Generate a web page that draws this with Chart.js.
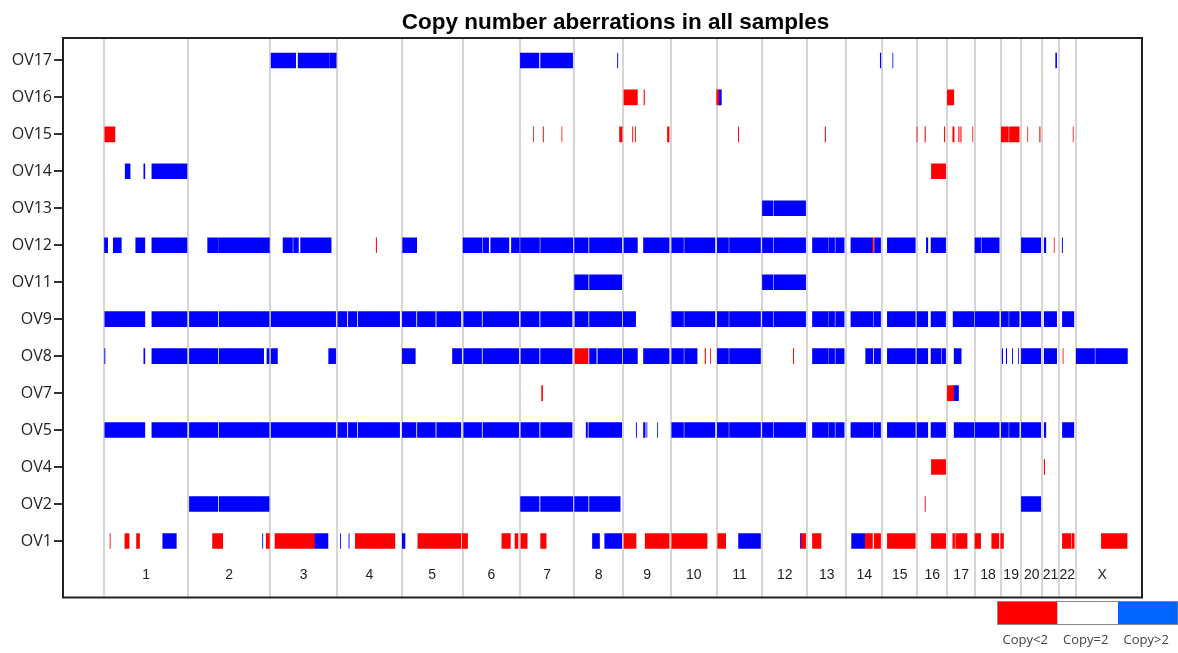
<!DOCTYPE html>
<html>
<head>
<meta charset="utf-8">
<script src="https://cdn.jsdelivr.net/npm/chart.js@4.4.1/dist/chart.umd.min.js"></script>
<style>
  html, body { margin: 0; padding: 0; background: #ffffff; }
  canvas { display: block; }
</style>
</head>
<body>
<canvas id="cnv" width="1178" height="653"></canvas>
<script>
// Chromosomes (hg19 lengths, Mb) laid end to end along the x axis
const chromNames = ['1','2','3','4','5','6','7','8','9','10','11','12','13','14','15','16','17','18','19','20','21','22','X'];
const chromLengths = [249.25, 243.20, 198.02, 191.15, 180.92, 171.12, 159.14, 146.36, 141.21, 135.53, 135.01, 133.85,
                      115.17, 107.35, 102.53, 90.35, 81.20, 78.08, 59.13, 63.03, 48.13, 51.30, 155.27];

// Samples, bottom to top
const sampleNames = ['OV1','OV2','OV4','OV5','OV7','OV8','OV9','OV11','OV12','OV13','OV14','OV15','OV16','OV17'];

// Segments as [start, end] in genome-wide Mb; gain = copy > 2, loss = copy < 2
const OV1_gain = [[173.7,214],[469.6,470.4],[625,663.6],[700.6,701.4],[725.6,726.4],[884,892],[1447.7,1468.7],[1484,1534.5],
  [1880.8,1946],[2064.5,2065.5],[2216,2254.5]];
const OV1_loss = [[17.4,18.2],[61.4,74],[96,105],[321.4,351.6],[480.5,489.9],[506.5,625],[744.7,823.7],[823.7,862],[930,1057.7],
  [1062,1077.5],[1179,1204.4],[1218,1227],[1235.6,1254.3],[1294,1310.4],[1541,1577],[1604,1675],[1682.8,1787.6],[1819,1842.7],
  [2065.5,2079.8],[2100,2125.4],[2254.5,2277.9],[2283,2302],[2322,2404.9],[2452.6,2494.8],[2516,2521.4],[2524.6,2558.4],
  [2581.7,2598.6],[2631.5,2652.5],[2658,2666.4],[2841,2866.6],[2869.7,2876],[2956.6,3032.8]];

const OV2_gain = [[252.8,337],[341,489],[1234.5,1289.6],[1294,1389.5],[1394.7,1435],[1439,1530],[2719.4,2776.6]];
const OV2_loss = [[2433.8,2434.8]];

const OV4_gain = [];
const OV4_loss = [[2452.6,2494.8],[2787,2788.5]];

const OV5_gain = [[2,120.7],[141.5,245.5],[252.8,337],[341,489],[495,686.4],[692.7,719.7],[724,749],[753,876],[884,924.6],
  [928.8,981.8],[986,1057.7],[1066,1119],[1123,1229],[1235.6,1289.6],[1294,1387.4],[1429,1433],[1437,1534.5],[1577.5,1578.5],
  [1599,1604],[1608.7,1609.3],[1640.7,1641.3],[1682.8,1717.7],[1720.9,1810.9],[1818,1851],[1854,1946],[1951.7,1982.4],
  [1985.6,2079.8],[2100,2146.5],[2148.6,2165.6],[2168.8,2194],[2214,2280],[2283,2302],[2322,2404.9],[2410,2441.9],
  [2451.5,2494.8],[2520,2578],[2581.7,2653.6],[2660,2681],[2684,2713],[2719.4,2776.6],[2787,2792],[2841,2875]];
const OV5_loss = [];

const OV7_gain = [[2520,2533]];
const OV7_loss = [[1297,1300],[2500,2520]];

const OV8_gain = [[1.5,2.5],[117.6,120.7],[141.5,245.5],[252.8,337],[341,473],[482.6,489],[495,513.8],[665.6,686.4],[884,922.5],
  [1032.8,1059.8],[1066,1119],[1123,1229],[1235.6,1289.6],[1294,1387.4],[1439,1459],[1463.6,1490.5],[1491.5,1534.5],
  [1538.8,1581],[1599,1675],[1682.8,1717.7],[1720.9,1758],[1818,1851],[1854,1946],[2100,2146.5],[2148.6,2165.6],
  [2168.8,2194],[2257.7,2278.9],[2283,2302],[2322,2404.9],[2410,2441.9],[2451.5,2481],[2484,2494.8],[2520,2541],
  [2662.5,2664],[2674.5,2676],[2692.5,2693.5],[2710.7,2711.3],[2719.4,2776.6],[2787,2824],[2882,2936.4],[2939.6,3033.8]];
const OV8_loss = [[1395.7,1435],[1490.5,1491.5],[1781.5,1783],[1797.7,1798.3],[2043.3,2044.5],[2842.7,2843.3]];

const OV9_gain = [[2,120.7],[141.5,245.5],[252.8,337],[341,489],[495,686.4],[692.7,719.7],[724,749],[753,876],[884,924.6],
  [928.8,981.8],[986,1057.7],[1066,1119],[1123,1229],[1235.6,1289.6],[1294,1387.4],[1395.7,1435],[1439,1534.5],
  [1538.8,1575.8],[1682.8,1717.7],[1720.9,1810.9],[1818,1851],[1854,1946],[1951.7,1982.4],[1985.6,2079.8],[2100,2146.5],
  [2148.6,2165.6],[2168.8,2194],[2214,2280],[2283,2302],[2322,2404.9],[2410,2441.9],[2451.5,2494.8],[2517,2578],
  [2581.7,2653.6],[2660,2681],[2684,2713],[2719.4,2776.6],[2787,2824],[2841,2875]];
const OV9_loss = [];

const OV11_gain = [[1394.7,1435],[1439,1534.5],[1951.7,1982.4],[1985.6,2079.8]];
const OV11_loss = [];

const OV12_gain = [[1,10.4],[27,51],[93.6,120.7],[141.5,245.5],[306.8,339],[341,490],[530.4,558.5],[561.6,576],[582.4,673],
  [885,926.7],[1064,1120],[1123,1140],[1146,1200],[1207.5,1231],[1234.5,1290.7],[1294,1389.5],[1394.7,1435],[1439,1534.5],
  [1541,1581],[1599,1675],[1682.8,1717.7],[1720.9,1810.9],[1818,1851],[1854,1946],[1951.7,1982.4],[1985.6,2079.8],
  [2100,2146.5],[2148.6,2165.6],[2168.8,2194],[2214,2276.8],[2284,2302],[2322,2404.9],[2437.7,2442],[2451.5,2494.8],
  [2581.7,2598.6],[2601.8,2653.6],[2719.4,2776.6],[2787,2792],[2840.5,2841.5]];
const OV12_loss = [[806.5,807.8],[2276.8,2281],[2816.5,2817]];

const OV13_gain = [[1951.7,1982.4],[1985.6,2079.8]];
const OV13_loss = [];

const OV14_gain = [[62.4,77],[117.6,120.7],[141.5,245.5]];
const OV14_loss = [[2452.6,2494.8]];

const OV15_gain = [];
const OV15_loss = [[2,32],[1273,1273.6],[1301.5,1302.5],[1356.8,1357.3],[1528,1535.6],[1566.5,1567.5],[1574.5,1575.5],
  [1670,1675],[1880.3,1881.3],[2137.5,2138.8],[2409.7,2410.3],[2433.5,2435],[2491,2492.3],[2516,2520],[2533.5,2535],
  [2539.5,2541],[2575,2575.6],[2660,2681],[2684,2713],[2738,2738.5],[2773.5,2775],[2872.7,2873.3]];

const OV16_gain = [[1823.6,1830]];
const OV16_loss = [[1541,1581],[1600.5,1602],[1816,1823.6],[2500,2519]];

const OV17_gain = [[495,568],[575,668],[670,688],[1234,1289],[1294,1389],[1522,1523],[2301,2302.5],[2338,2338.6],[2821,2824]];
const OV17_loss = [];

const gainBySample = [OV1_gain, OV2_gain, OV4_gain, OV5_gain, OV7_gain, OV8_gain, OV9_gain, OV11_gain, OV12_gain,
                      OV13_gain, OV14_gain, OV15_gain, OV16_gain, OV17_gain];
const lossBySample = [OV1_loss, OV2_loss, OV4_loss, OV5_loss, OV7_loss, OV8_loss, OV9_loss, OV11_loss, OV12_loss,
                      OV13_loss, OV14_loss, OV15_loss, OV16_loss, OV17_loss];

// Cumulative chromosome start positions
const chromStarts = [];
chromLengths.reduce((acc, len) => { chromStarts.push(acc); return acc + len; }, 0);

function toBars(bySample) {
  const out = [];
  bySample.forEach((segs, i) => segs.forEach(s => out.push({ x: [s[0], s[1]], y: i + 1 })));
  return out;
}

const CHROM_LABEL_ROW = 0.07;

const framePlugin = {
  id: 'frame',
  afterDraw(chart) {
    const { ctx, chartArea: a } = chart;
    ctx.save();
    ctx.strokeStyle = '#222';
    ctx.lineWidth = 2;
    ctx.strokeRect(a.left, a.top, a.right - a.left, a.bottom - a.top);
    ctx.restore();
  }
};

const chromLabelPlugin = {
  id: 'chromLabels',
  afterDatasetsDraw(chart) {
    const { ctx } = chart;
    const xs = chart.scales.x, ys = chart.scales.y;
    ctx.save();
    ctx.fillStyle = '#222';
    ctx.font = '14px "Liberation Sans", Arial, sans-serif';
    ctx.textAlign = 'center';
    ctx.textBaseline = 'middle';
    const yPix = ys.getPixelForValue(CHROM_LABEL_ROW);
    chromNames.forEach((name, i) => {
      ctx.fillText(name, xs.getPixelForValue(chromStarts[i] + chromLengths[i] / 2), yPix);
    });
    ctx.restore();
  }
};

const titlePlugin = {
  id: 'plotTitle',
  afterDraw(chart) {
    const { ctx, chartArea: a } = chart;
    ctx.save();
    ctx.fillStyle = '#000';
    ctx.font = 'bold 22.5px "Liberation Sans", Arial, sans-serif';
    ctx.textAlign = 'center';
    ctx.textBaseline = 'alphabetic';
    ctx.fillText('Copy number aberrations in all samples', (a.left + a.right) / 2 + 13, 29);
    ctx.restore();
  }
};

const colorKeyPlugin = {
  id: 'colorKey',
  afterDraw(chart) {
    const { ctx } = chart;
    const w = chart.width;
    const left = w - 181, top = 601, cell = 60.5, h = 23;
    const fills = ['#ff0000', '#ffffff', '#0066ff'];
    const labels = ['Copy<2', 'Copy=2', 'Copy>2'];
    ctx.save();
    fills.forEach((f, i) => {
      ctx.fillStyle = f;
      ctx.fillRect(left + i * cell, top, cell, h);
    });
    ctx.strokeStyle = '#888';
    ctx.lineWidth = 1;
    ctx.strokeRect(left + 0.5, top + 0.5, cell * 3 - 1, h);
    ctx.fillStyle = '#444';
    ctx.font = '13px "Open Sans", sans-serif';
    ctx.textAlign = 'center';
    ctx.textBaseline = 'middle';
    labels.forEach((t, i) => ctx.fillText(t, left + i * cell + cell / 2 - 2, 640));
    ctx.restore();
  }
};

new Chart(document.getElementById('cnv'), {
  type: 'bar',
  data: {
    datasets: [
      { label: 'Copy>2', data: toBars(gainBySample), backgroundColor: '#0000ff' },
      { label: 'Copy<2', data: toBars(lossBySample), backgroundColor: '#ff0000' }
    ]
  },
  options: {
    indexAxis: 'y',
    responsive: false,
    animation: false,
    events: [],
    layout: { padding: { left: 0, right: 36, top: 38, bottom: 55.5 } },
    datasets: {
      bar: { grouped: false, barThickness: 15, borderWidth: 0, inflateAmount: 0.3 }
    },
    scales: {
      x: {
        type: 'linear',
        min: -122,
        max: 3077,
        afterBuildTicks(scale) { scale.ticks = chromStarts.map(v => ({ value: v })); },
        afterFit(scale) { scale.height = 0; },
        ticks: { display: false },
        grid: { color: '#d6d6d6', lineWidth: 2, drawTicks: false },
        border: { display: false }
      },
      y: {
        type: 'linear',
        min: -0.53,
        max: 14.607,
        offset: false,
        afterBuildTicks(scale) { scale.ticks = sampleNames.map((n, i) => ({ value: i + 1 })); },
        afterFit(scale) { scale.width = 63; },
        ticks: {
          callback: v => sampleNames[v - 1] || '',
          color: '#222',
          font: { family: '"Open Sans", sans-serif', size: 16 },
          padding: 2
        },
        grid: { offset: false, drawOnChartArea: false, drawTicks: true, tickLength: 9, tickColor: '#333', tickWidth: 2, lineWidth: 2 },
        border: { display: false }
      }
    },
    plugins: {
      legend: { display: false },
      title: { display: false },
      tooltip: { enabled: false }
    }
  },
  plugins: [framePlugin, chromLabelPlugin, titlePlugin, colorKeyPlugin]
});
</script>
</body>
</html>
